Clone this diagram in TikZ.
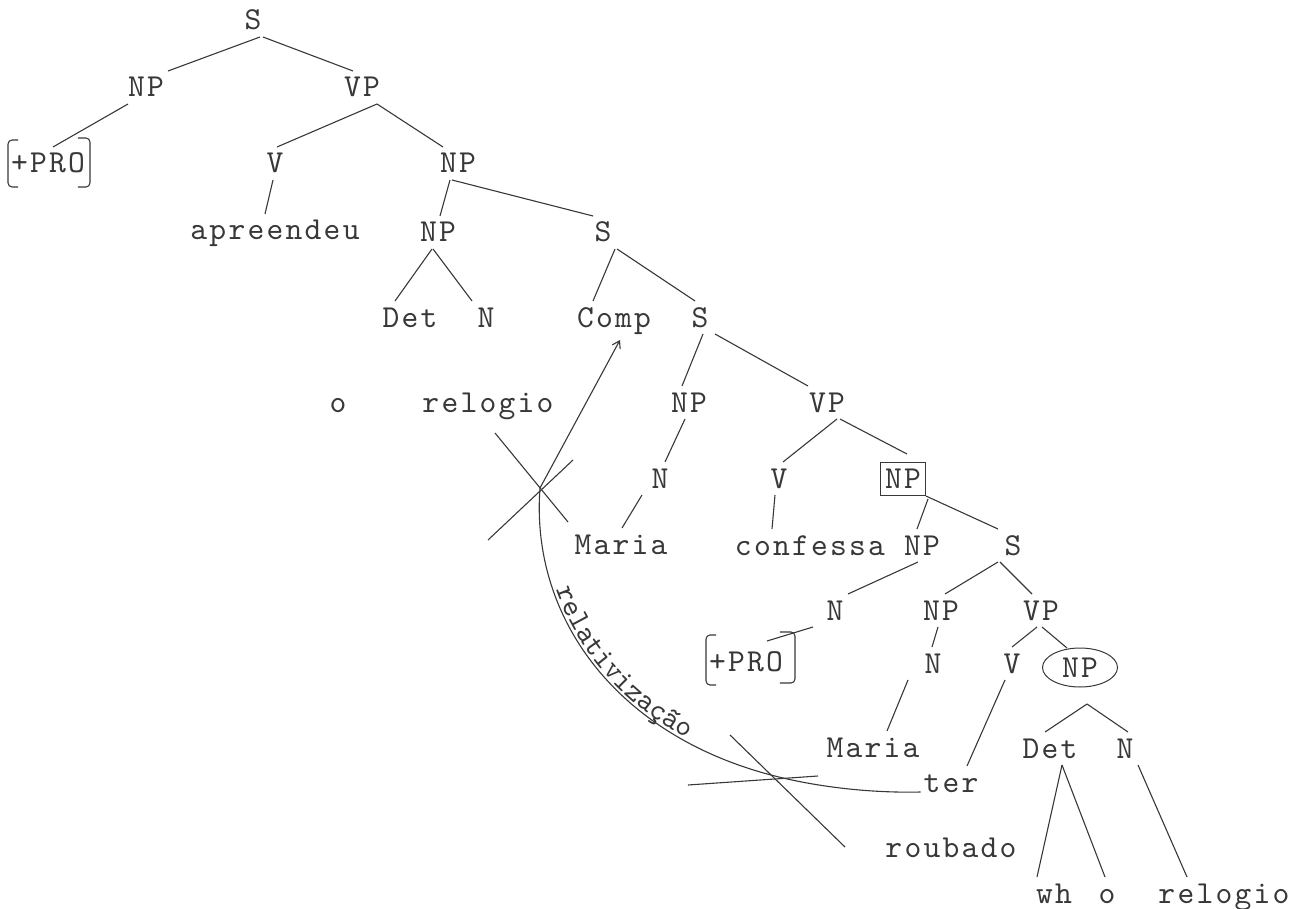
\documentclass[tikz,border=0pt]{standalone}
\usepackage{fontspec}
\usetikzlibrary{shapes.geometric,decorations.text,arrows.meta}
\definecolor{ink}{gray}{0.22}
\newfontfamily\tw{lmmono10-regular.otf}[LetterSpace=7]
\newcommand\lbl{\tw\fontsize{30}{36}\selectfont\color{ink}}
\newcommand\tedge[4]{\draw[tl] ([xshift=#2pt]#1.south) -- ([xshift=#4pt]#3.north);}
\begin{document}
\begin{tikzpicture}[x=1pt,y=-1pt,
  every node/.style={font=\tw\fontsize{32}{38}\selectfont,
    text=ink, text height=19pt, text depth=0pt, inner xsep=3pt, inner ysep=7pt,
    outer sep=0pt, anchor=base},
  tl/.style={draw=ink, line width=1.1pt},
  brk/.style={draw=ink, line width=1.1pt, rounded corners=4pt}]
\useasboundingbox (0,0) rectangle (1296,909);

% nodes
\node (s0) at (253,30) {S};
\node (npa) at (146,97) {NP};
\node (vpa) at (362,97) {VP};
\node (pro1) at (48,173) {+PRO};
\node (va) at (275,173) {V};
\node (npb) at (458,173) {NP};
\node (apr) at (275,240) {apreendeu};
\node (npc) at (438,242) {NP};
\node (sa) at (603,242) {S};
\node (det1) at (410,327) {Det};
\node (n1) at (486,327) {N};
\node (comp) at (614,327) {Comp};
\node (sb) at (700,327) {S};
\node (o1) at (338,412) {o};
\node (rel1) at (488,412) {relogio};
\node (npd) at (689,412) {NP};
\node (vpb) at (827,412) {VP};
\node (n2) at (660,488) {N};
\node (v2) at (779,488) {V};
\node[draw=ink, line width=1pt, inner xsep=5pt] (npbox) at (903,488) {NP};
\node (maria1) at (621,554) {Maria};
\node (conf) at (810,555) {confessa};
\node (npe) at (922,555) {NP};
\node (sc) at (1013,555) {S};
\node (n3) at (835,620) {N};
\node (npf) at (941,620) {NP};
\node (vpc) at (1041,620) {VP};
\node (pro2) at (746,671) {+PRO};
\node (n4) at (933,673) {N};
\node (v3) at (1012,673) {V};
\node[ellipse, draw=ink, line width=1pt, minimum width=75pt, minimum height=39pt, inner sep=0pt] (npell) at (1080,677) {NP};
\node (maria2) at (873,757) {Maria};
\node (det2) at (1050,758) {Det};
\node (n5) at (1125,758) {N};
\node (ter) at (951,792) {ter};
\node (roub) at (951,857) {roubado};
\node (wh) at (1054,903) {wh};
\node (o2) at (1107,903) {o};
\node (rel2) at (1224,903) {relogio};

% brackets
\draw[brk] ([xshift=10pt,yshift=7pt]pro1.north west) -- ([yshift=7pt]pro1.north west) -- ([yshift=-7pt]pro1.south west) -- ([xshift=10pt,yshift=-7pt]pro1.south west);
\draw[brk] ([xshift=-10pt,yshift=9pt]pro1.north east) -- ([xshift=2pt,yshift=9pt]pro1.north east) -- ([xshift=2pt,yshift=-7pt]pro1.south east) -- ([xshift=-10pt,yshift=-7pt]pro1.south east);
\draw[brk] ([xshift=10pt,yshift=10pt]pro2.north west) -- ([yshift=10pt]pro2.north west) -- ([yshift=-7pt]pro2.south west) -- ([xshift=10pt,yshift=-7pt]pro2.south west);
\draw[brk] ([xshift=-6pt,yshift=13pt]pro2.north east) -- ([xshift=9pt,yshift=13pt]pro2.north east) -- ([xshift=9pt,yshift=-5pt]pro2.south east) -- ([xshift=-6pt,yshift=-5pt]pro2.south east);

% tree edges
\tedge{s0}{7}{npa}{22}
\tedge{s0}{10}{vpa}{-9}
\tedge{npa}{-18}{pro1}{5}
\tedge{vpa}{15}{va}{2}
\tedge{vpa}{15}{npb}{-15}
\tedge{va}{-2}{apr}{-10}
\tedge{npb}{-8}{npc}{2}
\tedge{npb}{-6}{sa}{-10}
\tedge{npc}{-6}{det1}{-15}
\tedge{npc}{-5}{n1}{-14}
\tedge{sa}{12}{comp}{-21}
\tedge{sa}{14}{sb}{-5}
\tedge{sb}{3}{npd}{-7}
\tedge{sb}{15}{vpb}{-19}
\tedge{npd}{-4}{n2}{5}
\tedge{n2}{-18}{maria1}{1}
\tedge{vpb}{10}{v2}{4}
\draw[tl] ([xshift=13pt]vpb.south) -- ([xshift=4pt,yshift=8pt]npbox.north);
\tedge{v2}{-4}{conf}{-38}
\draw[tl] ([xshift=25pt,yshift=-4pt]npbox.south) -- ([xshift=-5pt]npe.north);
\draw[tl] ([yshift=-1pt]npbox.south east) -- ([xshift=-15pt]sc.north);
\tedge{npe}{-4}{n3}{13}
\tedge{sc}{-15}{npf}{4}
\tedge{sc}{-13}{vpc}{-9}
\draw[tl] ([xshift=-22pt]n3.south) -- ([xshift=21pt,yshift=4pt]pro2.north);
\tedge{npf}{-3}{n4}{-1}
\tedge{n4}{-25}{maria2}{14}
\tedge{vpc}{-4}{v3}{0}
\draw[tl] ([xshift=1pt]vpc.south) -- ([xshift=-13pt]npell.north);
\tedge{v3}{-7}{ter}{16}
\draw[tl] ([xshift=7pt,yshift=-17pt]npell.south) -- ([xshift=-5pt]det2.north);
\draw[tl] ([xshift=7pt,yshift=-17pt]npell.south) -- ([xshift=3pt]n5.north);
\tedge{det2}{12}{wh}{-17}
\tedge{det2}{12}{o2}{-2}
\tedge{n5}{13}{rel2}{-37}

% movement path
\coordinate (xa) at (540,488);
\coordinate (xb) at (783,778);
\coordinate (tip) at ([xshift=6pt,yshift=-13pt]comp.base);
\draw[tl, -{Straight Barb[length=7pt,width=9pt]}] (ter.base west) .. controls (880,793) and (830,789) .. (xb) .. controls (620,740) and (530,620) .. (xa) -- (tip);
\path[decorate, decoration={text along path, text={|\lbl|relativização}, text align=center, raise=3pt}] (xa) .. controls (530,620) and (620,740) .. (xb);

% crossing marks
\draw[tl] (495,433) -- (568,522);
\draw[tl] (573,460) -- (488,540);
\draw[tl] (730,735) -- (845,847);
\draw[tl] (688,785) -- (818,776);
\end{tikzpicture}
\end{document}
